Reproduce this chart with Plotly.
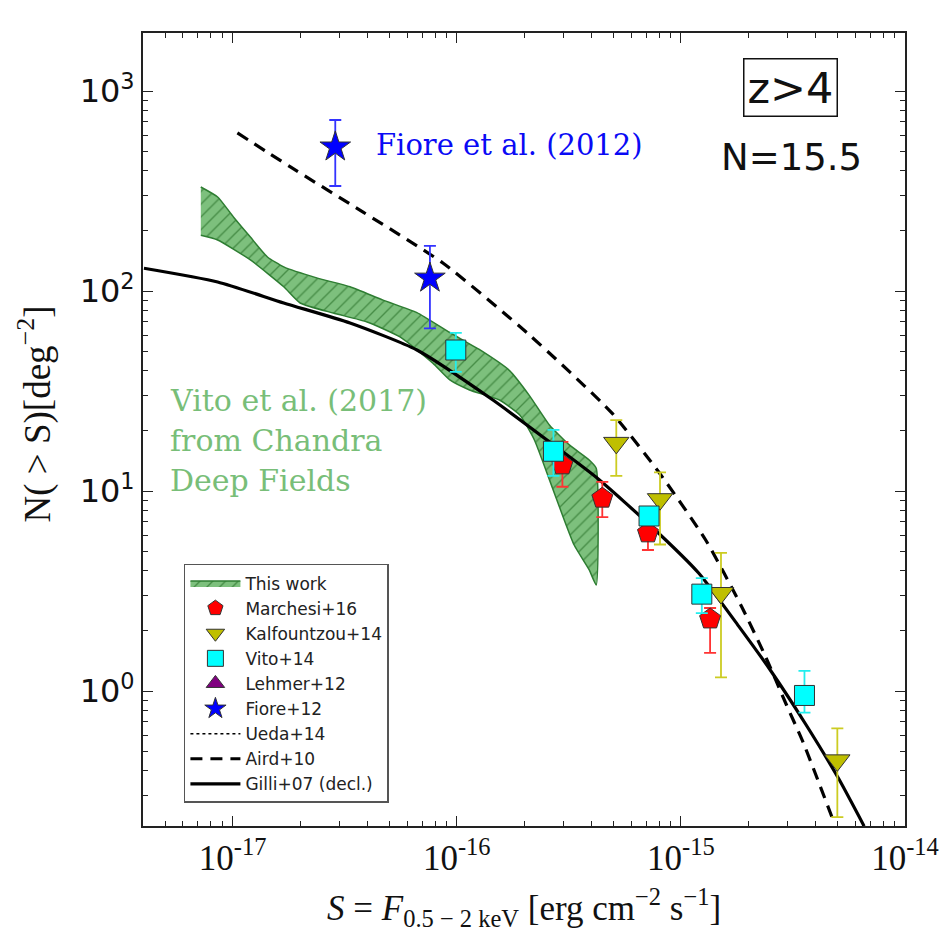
import plotly.graph_objects as go

# ---------------- data ----------------
# This work (Vito+17) band: upper edge (left->right) and lower edge (right->left)
band_up_S = [7.21e-18, 8.57e-18, 1.01e-17, 1.20e-17, 1.43e-17, 1.69e-17, 2.39e-17, 3.34e-17,
             4.69e-17, 6.64e-17, 9.31e-17, 1.26e-16, 1.72e-16, 2.11e-16, 2.59e-16, 3.18e-16,
             3.90e-16, 4.19e-16]
band_up_N = [331, 295, 234, 186, 148, 132, 116, 105, 90, 78, 62, 51, 40, 30, 21.4, 17, 14.3, 13.0]
band_lo_S = [4.19e-16, 3.90e-16, 3.34e-16, 2.96e-16, 2.59e-16, 2.22e-16, 1.91e-16, 1.55e-16,
             1.14e-16, 9.31e-17, 7.82e-17, 5.58e-17, 3.98e-17, 2.81e-17, 2.00e-17, 1.69e-17,
             1.20e-17, 8.57e-18, 7.21e-18]
band_lo_N = [3.39, 4.03, 5.37, 7.59, 11.4, 18.0, 24.0, 28.5, 32, 35.9, 43.6, 58.9, 70, 77.6,
             87.1, 105, 143, 180, 190]

# Marchesi+16
mar_S = [2.96e-16, 4.46e-16, 7.13e-16, 1.35e-15]
mar_N = [13.5, 9.2, 6.17, 2.29]
mar_hi = [17.6, 11.1, 6.6, 2.6]
mar_lo = [10.5, 7.4, 5.07, 1.55]

# Kalfountzou+14
kal_S = [5.15e-16, 8.07e-16, 1.51e-15, 4.99e-15]
kal_N = [17.4, 9.1, 3.09, 0.45]
kal_hi = [22.6, 12.4, 4.9, 0.65]
kal_lo = [11.9, 5.4, 1.17, 0.234]

# Vito+14
vit_S = [9.9e-17, 2.70e-16, 7.21e-16, 1.24e-15, 3.56e-15]
vit_N = [50.7, 15.8, 7.5, 3.05, 0.95]
vit_hi = [61.7, 20.2, 8.3, 3.67, 1.26]
vit_lo = [39.4, 11.9, 6.8, 2.45, 0.78]

# Fiore+12
fio_S = [2.87e-17, 7.59e-17]
fio_N = [525, 116]
fio_hi = [716, 168]
fio_lo = [335, 65]

# Aird+10 (dashed)
aird_S = [1.05e-17, 1.81e-17, 3.82e-17, 8.67e-17, 2.11e-16, 4.93e-16, 7.98e-16, 1.29e-15,
          1.87e-15, 2.39e-15, 2.96e-15, 3.52e-15, 4.83e-15]
aird_N = [617, 417, 248, 138, 60.3, 24.5, 12.4, 5.69, 2.63, 1.48, 0.851, 0.55, 0.219]

# Gilli+07 (solid)
gil_S = [4.02e-18, 8.57e-18, 1.69e-17, 3.34e-17, 6.64e-17, 1.45e-16, 2.78e-16, 4.19e-16,
         7.43e-16, 1.20e-15, 1.81e-15, 2.54e-15, 3.60e-15, 5.04e-15, 6.57e-15]
gil_N = [130, 111, 87.1, 69.2, 50.7, 28.5, 16.6, 11.7, 6.61, 3.89, 2.11, 1.245, 0.684, 0.367, 0.211]

x_major = [1e-17, 1e-16, 1e-15, 1e-14]
x_major_text = ["10<sup>-17</sup>", "10<sup>-16</sup>", "10<sup>-15</sup>", "10<sup>-14</sup>"]
y_major = [1, 10, 100, 1000]
y_major_text = ["10<sup>0</sup>", "10<sup>1</sup>", "10<sup>2</sup>", "10<sup>3</sup>"]

x_minor = [m * 10.0 ** e for e in range(-18, -14) for m in range(2, 10)]
y_minor = [m * 10.0 ** e for e in range(-1, 4) for m in range(2, 10)]

# ---------------- figure ----------------
fig = go.Figure()

def err(vals, hi, lo):
    return dict(type="data", symmetric=False,
                array=[h - v for h, v in zip(hi, vals)],
                arrayminus=[v - l for v, l in zip(vals, lo)])

fig.add_trace(go.Scatter(
    x=band_up_S + band_lo_S, y=band_up_N + band_lo_N, mode="lines", fill="toself",
    line=dict(color="#2e7d32", width=1.5, shape="spline", smoothing=0.5),
    fillcolor="rgba(120,190,120,1)",
    fillpattern=dict(shape="/", bgcolor="rgb(125,192,125)", fgcolor="rgb(70,140,70)",
                     size=9, solidity=0.15, fillmode="replace"),
    name="This work", legendrank=1))

fig.add_trace(go.Scatter(x=aird_S, y=aird_N, mode="lines", name="Aird+10",
                         line=dict(color="black", width=3.2, dash="12px,8px", shape="spline", smoothing=0.6),
                         legendrank=8))
fig.add_trace(go.Scatter(x=gil_S, y=gil_N, mode="lines", name="Gilli+07 (decl.)",
                         line=dict(color="black", width=3.2, shape="spline", smoothing=0.6), legendrank=9))
fig.add_trace(go.Scatter(x=[None], y=[None], mode="lines", name="Ueda+14",
                         line=dict(color="black", width=1.5, dash="dot"), legendrank=7))

edge = dict(color="#333333", width=1)
fig.add_trace(go.Scatter(x=kal_S, y=kal_N, mode="markers", name="Kalfountzou+14",
                         marker=dict(symbol="triangle-down", size=22, color="#bfbf00", line=edge),
                         error_y=dict(**err(kal_N, kal_hi, kal_lo), color="#cccc22", thickness=1.8, width=6),
                         legendrank=3))
fig.add_trace(go.Scatter(x=mar_S, y=mar_N, mode="markers", name="Marchesi+16",
                         marker=dict(symbol="pentagon", size=22, color="#ff0000", line=edge),
                         error_y=dict(**err(mar_N, mar_hi, mar_lo), color="#ff3333", thickness=1.8, width=6),
                         legendrank=2))
fig.add_trace(go.Scatter(x=vit_S, y=vit_N, mode="markers", name="Vito+14",
                         marker=dict(symbol="square", size=20, color="#00ffff", line=edge),
                         error_y=dict(**err(vit_N, vit_hi, vit_lo), color="#22eeee", thickness=1.8, width=6),
                         legendrank=4))
fig.add_trace(go.Scatter(x=[None], y=[None], mode="markers", name="Lehmer+12",
                         marker=dict(symbol="triangle-up", size=18, color="#800080", line=edge),
                         legendrank=5))
fig.add_trace(go.Scatter(x=fio_S, y=fio_N, mode="markers", name="Fiore+12",
                         marker=dict(symbol="star", size=23, color="#0000ff", line=edge),
                         error_y=dict(**err(fio_N, fio_hi, fio_lo), color="#3333ff", thickness=1.8, width=6),
                         legendrank=6))

axis_common = dict(type="log", showgrid=False, zeroline=False, showline=True,
                   linecolor="#222222", linewidth=2, mirror="allticks",
                   ticks="inside", ticklen=10, tickwidth=1.3, tickcolor="#222222",
                   tickmode="array")

fig.update_xaxes(**axis_common, range=[-17.4, -14], tickvals=x_major, ticktext=x_major_text,
                 tickfont=dict(family="Liberation Serif", size=35, color="#111111"),
                 minor=dict(tickmode="array", tickvals=x_minor, ticks="inside", ticklen=5,
                            tickwidth=1.2, tickcolor="#222222", showgrid=False))
fig.update_yaxes(**axis_common, range=[-0.675, 3.29], tickvals=y_major, ticktext=y_major_text,
                 tickfont=dict(family="DejaVu Sans", size=32, color="#111111"),
                 minor=dict(tickmode="array", tickvals=y_minor, ticks="inside", ticklen=5,
                            tickwidth=1.2, tickcolor="#222222", showgrid=False))

ann = []
ann.append(dict(text="Fiore et al. (2012)", x=0.3037, y=0.8588, xref="paper", yref="paper",
                xanchor="left", yanchor="middle", showarrow=False,
                font=dict(family="DejaVu Serif", size=29, color="#0a0af5")))
for txt, yy in [("Vito et al. (2017)", 0.536), ("from Chandra", 0.4855), ("Deep Fields", 0.4363)]:
    ann.append(dict(text=txt, x=0.0327, y=yy, xref="paper", yref="paper",
                    xanchor="left", yanchor="middle", showarrow=False,
                    font=dict(family="DejaVu Serif", size=30, color="rgb(120,190,120)")))
ann.append(dict(text="z>4", x=0.8495, y=0.9307, xref="paper", yref="paper",
                xanchor="center", yanchor="middle", showarrow=False,
                bordercolor="#111111", borderwidth=1.5, borderpad=3, bgcolor="white",
                font=dict(family="DejaVu Sans", size=43, color="#111111")))
ann.append(dict(text="N=15.5", x=0.851, y=0.8436, xref="paper", yref="paper",
                xanchor="center", yanchor="middle", showarrow=False,
                font=dict(family="DejaVu Sans", size=37, color="#111111")))
ann.append(dict(text="N( &gt; S)[deg<sup>−2</sup>]", x=-0.142, y=0.52, xref="paper", yref="paper",
                xanchor="center", yanchor="middle", showarrow=False, textangle=-90,
                font=dict(family="Liberation Serif", size=37, color="#111111")))
ann.append(dict(text="<i>S</i> = <i>F</i><sub>0.5 − 2 keV</sub> [erg cm<sup>−2</sup> s<sup>−1</sup>]",
                x=0.5, y=-0.103, xref="paper", yref="paper",
                xanchor="center", yanchor="middle", showarrow=False,
                font=dict(family="Liberation Serif", size=35, color="#111111")))

fig.update_layout(
    width=951, height=934,
    margin=dict(l=143, r=44, t=33, b=108, pad=0),
    paper_bgcolor="white", plot_bgcolor="white",
    annotations=ann,
    showlegend=True,
    legend=dict(x=0.0537, y=0.3304, xanchor="left", yanchor="top",
                bgcolor="white", bordercolor="#555555", borderwidth=1.5,
                font=dict(family="DejaVu Sans", size=17, color="#222222"),
                tracegroupgap=0, itemsizing="trace", itemwidth=50),
)

fig.write_html("out.html")
